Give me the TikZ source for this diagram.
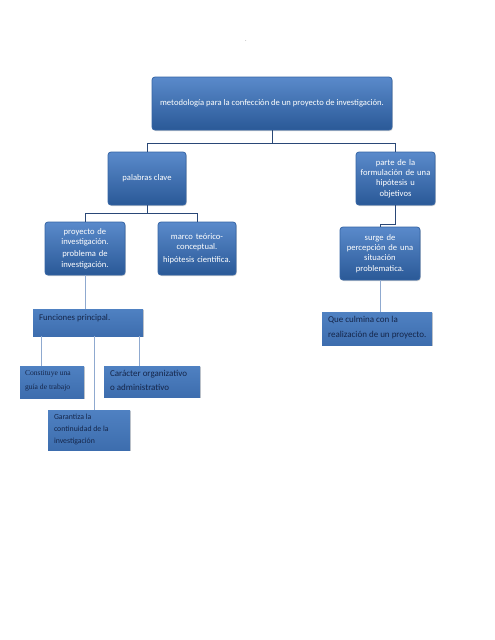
\documentclass[tikz,border=0pt]{standalone}
\usepackage{fontspec}
\setmainfont{Carlito}
\newfontfamily\serifb{Liberation Serif}
\usetikzlibrary{calc,shadows}
\hyphenpenalty=10000
\exhyphenpenalty=10000
\definecolor{btop}{HTML}{5A8ACB}
\definecolor{bbot}{HTML}{2A5997}
\definecolor{bedge}{HTML}{3565A5}
\definecolor{ftop}{HTML}{4F81C2}
\definecolor{fbot}{HTML}{3D6DAE}
\definecolor{darktxt}{HTML}{15264A}
\definecolor{linedark}{HTML}{2A4877}
\definecolor{linelight}{HTML}{8FA9CF}
\tikzset{
  rbox/.style={draw=bedge, line width=0.8pt, rounded corners=3pt, top color=btop, bottom color=bbot,
    text=white, align=center, font=\fontsize{8.6}{10.4}\selectfont, inner sep=2pt,
    drop shadow={shadow xshift=0.8pt, shadow yshift=-1pt, opacity=0.35}},
  fbox/.style={draw=none, top color=ftop, bottom color=fbot,
    drop shadow={shadow xshift=1.2pt, shadow yshift=-1.2pt, opacity=0.4, fill=gray}},
  ftext/.style={anchor=north west, text=darktxt, align=left, inner sep=0pt},
  conn/.style={draw=linedark, line width=1pt},
  connl/.style={draw=linelight, line width=1pt}
}
\begin{document}
\begin{tikzpicture}[x=1pt,y=1pt]
\useasboundingbox[fill=white] (0,0) rectangle (495,-640);
\node[text=gray, font=\fontsize{6}{6}\selectfont, inner sep=0pt] (dot) at (246,-41) {.};
% upper tree
\node[rbox, minimum width=240pt, minimum height=53pt] (top) at (272,-103.5)
  {metodología para la confección de un proyecto de investigación.};
\node[rbox, minimum width=78pt, minimum height=53pt] (pal) at (147,-178.5) {palabras clave};
\node[rbox, minimum width=79pt, minimum height=53pt, text width=70pt] (parte) at (395.5,-178.5)
  {parte de la\\formulación de una\\hipótesis u\\objetivos};
\node[rbox, minimum width=80pt, minimum height=53pt, text width=72pt] (proy) at (85,-248.5)
  {proyecto de\\investigación.\\[2pt]problema de\\investigación.};
\node[rbox, minimum width=78pt, minimum height=53pt, text width=72pt] (marco) at (197,-248.5)
  {marco teórico-\\conceptual.\\[2pt]hipótesis científica.};
\node[rbox, minimum width=80pt, minimum height=53pt, text width=72pt] (surge) at (380,-253.5)
  {surge de\\percepción de una\\situación\\problematica.};
% flat boxes
\node[fbox, minimum width=110pt, minimum height=27pt] (func) at (88,-322.5) {};
\node[ftext, font=\fontsize{8.8}{10}\selectfont] (funct) at ($(func.north west)+(6,-5)$) {Funciones principal.};
\node[fbox, minimum width=110pt, minimum height=33pt] (culm) at (377,-328.5) {};
\node[ftext, font=\fontsize{9}{15.5}\selectfont] (culmt) at ($(culm.north west)+(6,-4)$) {Que culmina con la\\realización de un proyecto.};
\node[fbox, minimum width=64pt, minimum height=32pt] (cons) at (52,-382) {};
\node[ftext, font=\serifb\fontsize{7.6}{14}\selectfont] (const) at ($(cons.north west)+(5,-4)$) {Constituye una\\guía de trabajo};
\node[fbox, minimum width=96pt, minimum height=31pt] (carac) at (152,-381.5) {};
\node[ftext, font=\fontsize{9}{14}\selectfont] (caract) at ($(carac.north west)+(6,-4)$) {Carácter organizativo\\o administrativo};
\node[fbox, minimum width=82pt, minimum height=40pt] (gar) at (89,-430) {};
\node[ftext, font=\fontsize{7.8}{12}\selectfont] (gart) at ($(gar.north west)+(6,-4)$) {Garantiza la\\continuidad de la\\investigación};
% connectors
\draw[conn] (top.south) -- ($(top.south)+(0,-13)$) -| (pal.north);
\draw[conn] ($(top.south)+(0,-13)$) -| (parte.north);
\draw[conn] (pal.south) -- ($(pal.south)+(0,-8)$) -| (proy.north);
\draw[conn] ($(pal.south)+(0,-8)$) -| (marco.north);
\draw[conn] (parte.south) -- ($(parte.south)+(0,-19)$) -| (surge.north);
\draw[connl] (proy.south) -- (proy.south |- func.north);
\draw[connl] (surge.south) -- (surge.south |- culm.north);
\draw[connl] ($(func.south west)+(9,0)$) -- ($(cons.north west)+(22,0)$);
\draw[connl] ($(func.south west)+(62,0)$) -- ($(gar.north west)+(47,0)$);
\draw[connl] ($(func.south west)+(107,0)$) -- ($(carac.north west)+(36,0)$);
\end{tikzpicture}
\end{document}
